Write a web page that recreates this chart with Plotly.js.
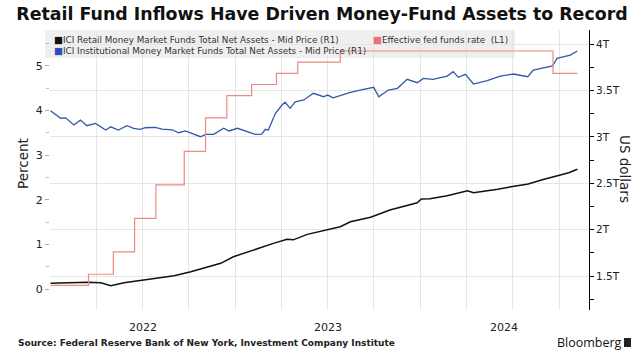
<!DOCTYPE html>
<html>
<head>
<meta charset="utf-8">
<script src="https://cdn.plot.ly/plotly-3.0.1.min.js"></script>
<style>html,body{margin:0;padding:0;background:#fff;}#chart{width:644px;height:358px;}</style>
</head>
<body>
<div id="chart"></div>
<script>
// ---------------- DATA ----------------
const fedDates = ['2022-01-01','2022-03-17','2022-05-05','2022-06-16','2022-07-28','2022-09-22','2022-11-03','2022-12-15','2023-02-02','2023-03-23','2023-05-04','2023-07-27','2024-09-19','2024-11-06'];
const fedRate  = [0.08,0.33,0.83,1.58,2.33,3.08,3.83,4.33,4.58,4.83,5.08,5.33,4.83,4.83];

const instDates = ['2022-01-01','2022-01-11','2022-01-21','2022-01-31','2022-02-16','2022-03-01','2022-03-14','2022-03-31','2022-04-20','2022-04-30','2022-05-15','2022-06-01','2022-06-14','2022-06-27','2022-07-07','2022-07-27','2022-08-09','2022-08-29','2022-09-11','2022-09-24','2022-10-11','2022-10-24','2022-11-03','2022-11-19','2022-12-09','2022-12-19','2023-01-05','2023-01-21','2023-02-09','2023-02-22','2023-03-01','2023-03-07','2023-03-21','2023-04-03','2023-04-09','2023-04-19','2023-04-29','2023-05-16','2023-06-04','2023-06-24','2023-07-02','2023-07-13','2023-08-16','2023-09-11','2023-10-01','2023-10-11','2023-10-30','2023-11-17','2023-12-06','2023-12-26','2024-01-07','2024-01-26','2024-02-23','2024-03-06','2024-03-16','2024-03-30','2024-04-15','2024-05-12','2024-06-07','2024-07-03','2024-07-31','2024-08-11','2024-09-08','2024-09-18','2024-09-27','2024-10-09','2024-10-23','2024-11-06'];
const instAssets = [3.28,3.235,3.20,3.205,3.127,3.18,3.12,3.145,3.073,3.108,3.073,3.12,3.092,3.081,3.098,3.102,3.084,3.076,3.044,3.063,3.027,3.001,3.027,3.027,3.092,3.063,3.092,3.063,3.027,3.030,3.081,3.073,3.253,3.343,3.372,3.307,3.378,3.397,3.469,3.432,3.450,3.421,3.480,3.512,3.533,3.432,3.504,3.523,3.620,3.583,3.630,3.620,3.655,3.702,3.641,3.673,3.569,3.605,3.655,3.677,3.648,3.720,3.755,3.763,3.846,3.863,3.881,3.925];

const retailDates = ['2022-01-01','2022-02-05','2022-03-15','2022-04-10','2022-04-30','2022-05-26','2022-06-28','2022-07-24','2022-09-02','2022-10-05','2022-11-07','2022-12-03','2022-12-28','2023-01-11','2023-02-14','2023-03-17','2023-04-13','2023-04-25','2023-05-23','2023-06-24','2023-07-27','2023-08-16','2023-09-25','2023-11-02','2023-12-12','2023-12-26','2024-01-03','2024-01-20','2024-02-23','2024-04-03','2024-04-15','2024-04-30','2024-06-02','2024-06-28','2024-08-01','2024-08-27','2024-09-30','2024-10-20','2024-11-06'];
const retailAssets = [1.421,1.43,1.432,1.428,1.395,1.428,1.454,1.475,1.503,1.546,1.600,1.637,1.708,1.734,1.791,1.852,1.895,1.890,1.949,1.988,2.031,2.085,2.133,2.211,2.265,2.290,2.330,2.333,2.365,2.419,2.398,2.408,2.434,2.462,2.491,2.534,2.581,2.613,2.650];

const yearLabels = ['2022','2023','2024'];
const pctTicks = [0,1,2,3,4,5];
const usdTicks = [1.5,2,2.5,3,3.5,4];
const usdTickText = ['1.5T','2T','2.5T','3T','3.5T','4T'];

const seriesNames = {
  retail: 'ICI Retail Money Market Funds Total Net Assets - Mid Price (R1)',
  inst: 'ICI Institutional Money Market Funds Total Net Assets - Mid Price (R1)',
  fed: 'Effective fed funds rate&nbsp;&nbsp;(L1)'
};

// ---------------- LAYOUT ----------------
const W = 644, H = 358;
const M = {l: 50, r: 55, t: 30, b: 48};
const PW = W - M.l - M.r, PH = H - M.t - M.b;
const px = x => (x - M.l) / PW;        // pixel -> paper x
const py = y => (H - M.b - y) / PH;    // pixel -> paper y

const xRange = ['2021-12-31', '2024-11-29'];
const colors = {retail: '#111111', inst: '#3358a8', fed: '#ec8a84'};

// quarter gridlines
const quarterTicks = [];
for (let yr = 2022; yr <= 2024; yr++) for (const m of ['01','04','07','10']) quarterTicks.push(yr + '-' + m + '-01');

// year labels centred on visible part of each year
const t0 = new Date(xRange[0]).getTime(), t1 = new Date(xRange[1]).getTime();
const yearAnn = yearLabels.map(y => {
  const a = Math.max(t0, new Date(y + '-01-01').getTime());
  const b = Math.min(t1, new Date((+y + 1) + '-01-01').getTime());
  return {x: new Date((a + b) / 2).toISOString().slice(0, 10), xref: 'x', y: py(327), yref: 'paper',
          text: y, showarrow: false, xanchor: 'center', yanchor: 'middle',
          font: {family: 'DejaVu Sans', size: 11, color: '#222'}};
});

const legFont = {family: 'DejaVu Sans', size: 8.8, color: '#333'};
const sq = c => '<span style="color:' + c + ';font-size:9.5px">■</span>';

const traces = [
  {x: retailDates, y: retailAssets, yaxis: 'y', type: 'scatter', mode: 'lines', name: seriesNames.retail,
   line: {color: colors.retail, width: 1.5}},
  {x: instDates, y: instAssets, yaxis: 'y', type: 'scatter', mode: 'lines', name: seriesNames.inst,
   line: {color: colors.inst, width: 1.3}},
  {x: fedDates, y: fedRate, yaxis: 'y2', type: 'scatter', mode: 'lines', name: seriesNames.fed,
   line: {color: colors.fed, width: 1.2, shape: 'hv'}}
];

const layout = {
  width: W, height: H, margin: M, showlegend: false,
  paper_bgcolor: '#ffffff', plot_bgcolor: 'rgba(0,0,0,0)',
  title: {text: 'Retail Fund Inflows Have Driven Money-Fund Assets to Record', xref: 'container', x: 0.5, xanchor: 'center',
          yref: 'container', y: 1 - 14 / H, yanchor: 'middle',
          font: {family: 'DejaVu Sans', size: 17.4, color: '#111', weight: 'bold'}},
  xaxis: {type: 'date', range: xRange, tickvals: quarterTicks, showticklabels: false, ticks: '',
          showgrid: true, gridcolor: '#e6e6e6', gridwidth: 1, zeroline: false, showline: false},
  yaxis: {side: 'right', range: [1.134, 4.151], tickvals: usdTicks, ticktext: usdTickText,
          ticks: 'outside', ticklen: 4, tickcolor: '#000', showline: true, linecolor: '#000', linewidth: 1,
          showgrid: true, gridcolor: '#e6e6e6', zeroline: false, ticklabelstandoff: 0,
          minor: {dtick: 0.25, tick0: 0, ticks: 'outside', ticklen: 4, tickcolor: '#000', showgrid: false},
          tickfont: {family: 'DejaVu Sans', size: 10.5, color: '#222'}},
  yaxis2: {side: 'left', overlaying: 'y', range: [-0.47, 5.80], tickvals: pctTicks,
           ticks: 'outside', ticklen: 4, tickcolor: '#aaa', showline: false, showgrid: false, zeroline: false,
           ticklabelstandoff: 0,
           minor: {dtick: 0.5, tick0: 0, ticks: 'outside', ticklen: 3, tickcolor: '#bbb', showgrid: false},
           tickfont: {family: 'DejaVu Sans', size: 11, color: '#222'}},
  shapes: [
    {type: 'rect', xref: 'paper', yref: 'paper', x0: px(45), x1: px(515), y0: py(58), y1: py(30),
     fillcolor: '#efefef', line: {width: 0}, layer: 'below'},
    {type: 'rect', xref: 'paper', yref: 'paper', x0: px(624), x1: px(631), y0: py(347), y1: py(338),
     fillcolor: '#222', line: {width: 0}}
  ],
  annotations: [
    ...yearAnn,
    {x: px(53), y: py(44.5), xref: 'paper', yref: 'paper', xanchor: 'left', yanchor: 'middle', showarrow: false,
     align: 'left', borderpad: 0,
     text: sq(colors.retail) + seriesNames.retail + '<br>' + sq('#2a50c0') + seriesNames.inst, font: legFont},
    {x: px(372), y: py(39), xref: 'paper', yref: 'paper', xanchor: 'left', yanchor: 'middle', showarrow: false,
     borderpad: 0, text: sq('#e57373') + seriesNames.fed, font: legFont},
    {x: px(23), y: py(164), xref: 'paper', yref: 'paper', xanchor: 'center', yanchor: 'middle', showarrow: false,
     text: 'Percent', textangle: -90, font: {family: 'DejaVu Sans', size: 13.5, color: '#222'}},
    {x: px(625), y: py(169), xref: 'paper', yref: 'paper', xanchor: 'center', yanchor: 'middle', showarrow: false,
     text: 'US dollars', textangle: 90, font: {family: 'DejaVu Sans', size: 13.5, color: '#222'}},
    {x: px(16), y: py(343), xref: 'paper', yref: 'paper', xanchor: 'left', yanchor: 'middle', showarrow: false,
     text: '<b>Source: Federal Reserve Bank of New York, Investment Company Institute</b>',
     font: {family: 'DejaVu Sans', size: 9, color: '#222'}},
    {x: px(624), y: py(342), xref: 'paper', yref: 'paper', xanchor: 'right', yanchor: 'middle', showarrow: false,
     text: 'Bloomberg', font: {family: 'Open Sans', size: 12.5, color: '#111'}}
  ]
};

Plotly.newPlot('chart', traces, layout, {staticPlot: true, displayModeBar: false});
</script>
</body>
</html>
